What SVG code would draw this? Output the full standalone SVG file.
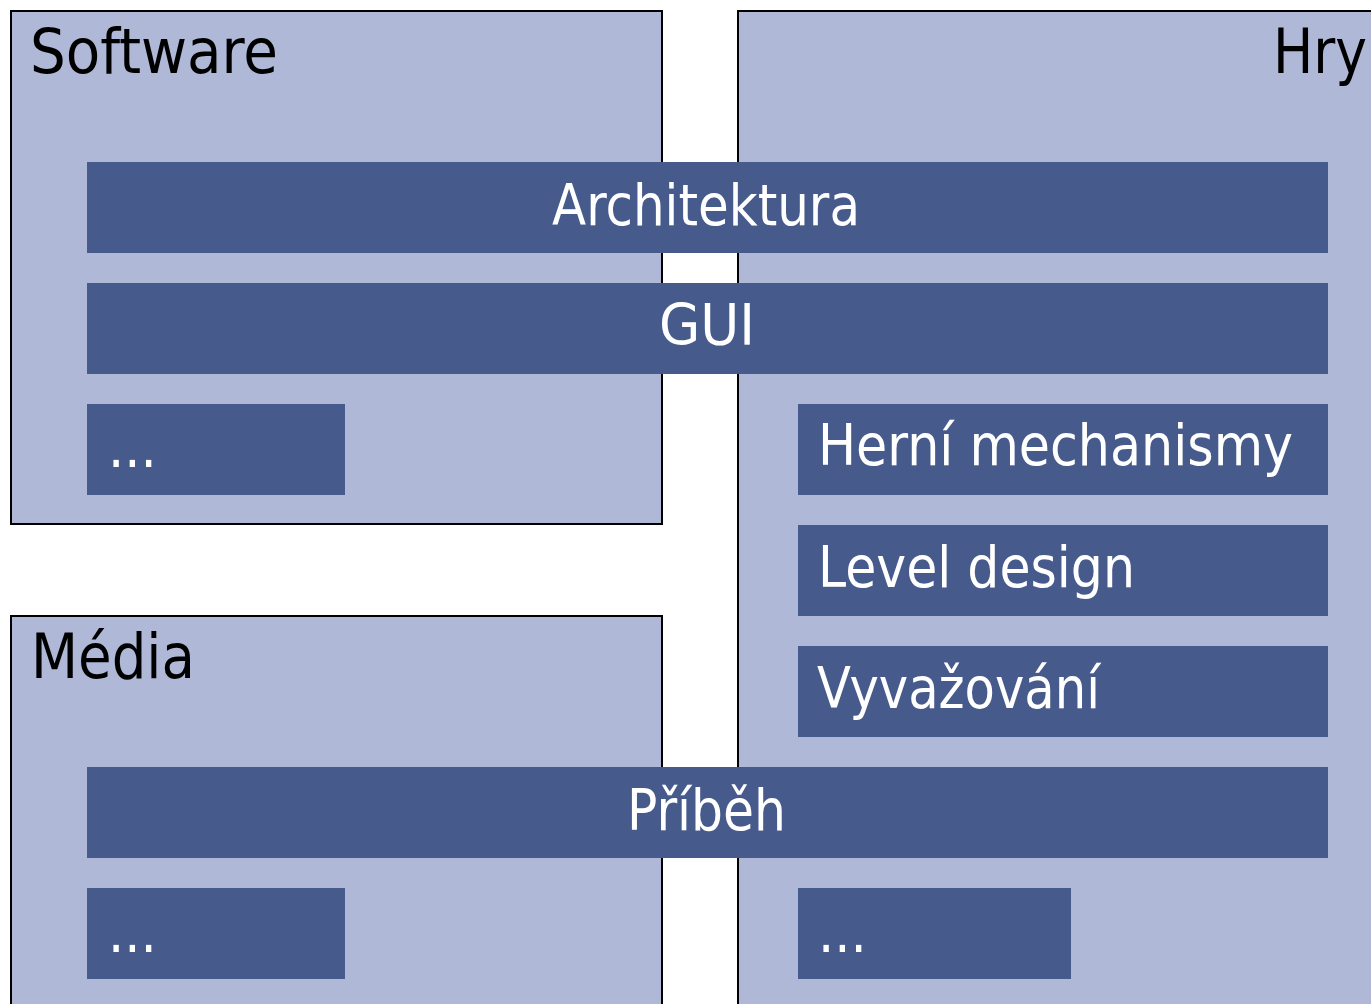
<svg xmlns="http://www.w3.org/2000/svg" width="1371" height="1004" viewBox="0 0 1371 1004">
<style>
.area{fill:#AFB9D7;stroke:#000;stroke-width:2}
.bar{fill:#465A8C}
.h{font-family:"DejaVu Sans Condensed","DejaVu Sans",Verdana,sans-serif;font-size:63px;fill:#000}
.t{font-family:"DejaVu Sans Condensed","DejaVu Sans",Verdana,sans-serif;font-size:57px;fill:#fff}
</style>
<rect width="1371" height="1004" fill="#fff"/>
<g id="area-software">
<rect class="area" x="11" y="11" width="651" height="513"/>
<text class="h" x="30" y="73" textLength="248" lengthAdjust="spacingAndGlyphs">Software</text>
</g>
<g id="area-hry">
<rect class="area" x="738" y="11" width="700" height="1100"/>
<text class="h" x="1367" y="73" text-anchor="end" textLength="94" lengthAdjust="spacingAndGlyphs">Hry</text>
</g>
<g id="area-media">
<rect class="area" x="11" y="616" width="651" height="500"/>
<text class="h" x="31" y="678" textLength="164" lengthAdjust="spacingAndGlyphs">Média</text>
</g>
<g id="connectors"/>
<g id="bar-architektura">
<rect class="bar" x="87" y="162" width="1241" height="91"/>
<text class="t" x="706" y="225" text-anchor="middle" textLength="308" lengthAdjust="spacingAndGlyphs">Architektura</text>
</g>
<g id="bar-gui">
<rect class="bar" x="87" y="283" width="1241" height="91"/>
<text class="t" x="707" y="345" text-anchor="middle" textLength="96" lengthAdjust="spacingAndGlyphs">GUI</text>
</g>
<g id="bar-software-more">
<rect class="bar" x="87" y="404" width="258" height="91"/>
<text class="t" x="108" y="467">...</text>
</g>
<g id="bar-herni-mechanismy">
<rect class="bar" x="798" y="404" width="530" height="91"/>
<text class="t" x="818" y="465" textLength="475" lengthAdjust="spacingAndGlyphs">Herní mechanismy</text>
</g>
<g id="bar-level-design">
<rect class="bar" x="798" y="525" width="530" height="91"/>
<text class="t" x="818" y="587" textLength="317" lengthAdjust="spacingAndGlyphs">Level design</text>
</g>
<g id="bar-vyvazovani">
<rect class="bar" x="798" y="646" width="530" height="91"/>
<text class="t" x="817" y="708" textLength="283" lengthAdjust="spacingAndGlyphs">Vyvažování</text>
</g>
<g id="bar-pribeh">
<rect class="bar" x="87" y="767" width="1241" height="91"/>
<text class="t" x="627" y="830" textLength="159" lengthAdjust="spacingAndGlyphs">Příběh</text>
</g>
<g id="bar-media-more">
<rect class="bar" x="87" y="888" width="258" height="91"/>
<text class="t" x="108" y="952">...</text>
</g>
<g id="bar-hry-more">
<rect class="bar" x="798" y="888" width="273" height="91"/>
<text class="t" x="818" y="952">...</text>
</g>
</svg>
